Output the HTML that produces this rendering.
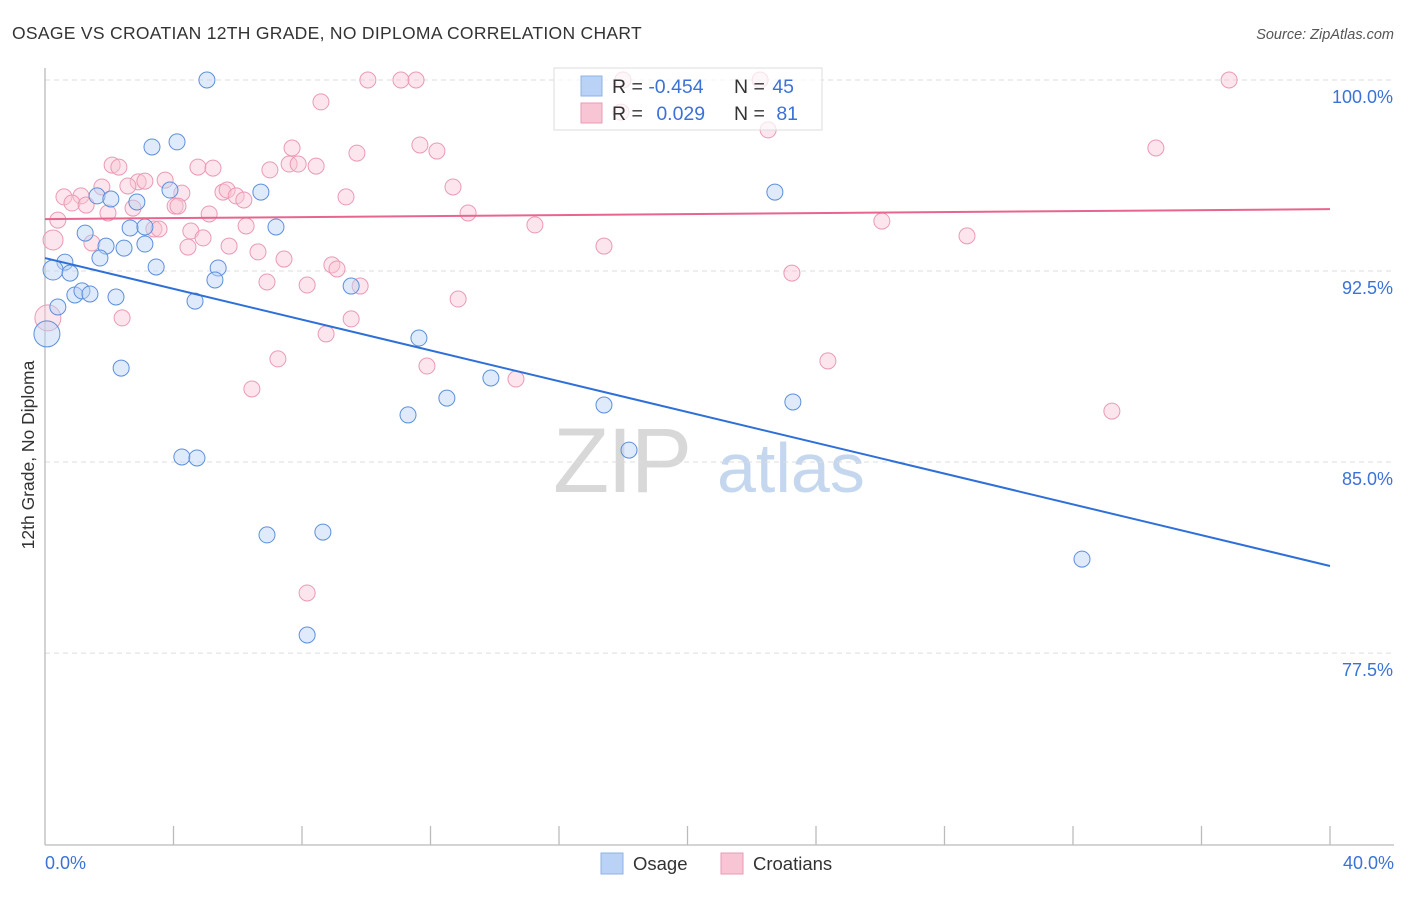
<!DOCTYPE html>
<html><head><meta charset="utf-8"><style>
body{margin:0;background:#fff;font-family:"Liberation Sans",sans-serif;}
svg text{font-family:"Liberation Sans",sans-serif;}
</style></head><body>
<svg id="chart" width="1406" height="892" viewBox="0 0 1406 892" xmlns="http://www.w3.org/2000/svg">
<text x="12" y="39" font-size="17.5" fill="#333" letter-spacing="0.3">OSAGE VS CROATIAN 12TH GRADE, NO DIPLOMA CORRELATION CHART</text>
<text x="1394" y="39" font-size="14.5" fill="#555" text-anchor="end" font-style="italic">Source: ZipAtlas.com</text>
<g>
<text x="553" y="492" font-size="92" fill="#d8d8d8" font-family="Liberation Serif" letter-spacing="-2">ZIP</text>
<text x="717" y="492" font-size="70" fill="#c5d7ee">atlas</text>
</g>
<g id="grid"></g>
<g id="axes"></g>
<g id="points"></g>
<g id="lines"></g>
<text transform="translate(34,455) rotate(-90)" font-size="17.5" fill="#333" text-anchor="middle">12th Grade, No Diploma</text>
<text x="45" y="869" font-size="18" fill="#3a72d8">0.0%</text>
<text x="1394" y="869" font-size="18" fill="#3a72d8" text-anchor="end">40.0%</text>
<g>
<rect x="554" y="68" width="268" height="62" fill="#fff" fill-opacity="0.7" stroke="#ddd"/>
<rect x="581" y="76" width="21" height="20" fill="#b9d2f5" stroke="#8fb2e6"/>
<rect x="581" y="103" width="21" height="20" fill="#f8c5d4" stroke="#eb9ab4"/>
<text x="612" y="93" font-size="19.5" fill="#333">R = <tspan fill="#3a72d8">-0.454</tspan></text>
<text x="734" y="93" font-size="19.5" fill="#333">N = <tspan fill="#3a72d8" dx="2">45</tspan></text>
<text x="612" y="120" font-size="19.5" fill="#333">R = <tspan fill="#3a72d8" dx="8">0.029</tspan></text>
<text x="734" y="120" font-size="19.5" fill="#333">N = <tspan fill="#3a72d8" dx="6">81</tspan></text>
</g>
<g>
<rect x="601" y="853" width="22" height="21" fill="#b9d2f5" stroke="#8fb2e6"/>
<text x="633" y="870" font-size="18.5" fill="#333">Osage</text>
<rect x="721" y="853" width="22" height="21" fill="#f8c5d4" stroke="#eb9ab4"/>
<text x="753" y="870" font-size="18.5" fill="#333">Croatians</text>
</g>
</svg>
<script>
const yTicks=[100,92.5,85,77.5];
const yTickLabels=["100.0%","92.5%","85.0%","77.5%"];
const xTicks=[0,4,8,12,16,20,24,28,32,36,40];
const osageX=[5.04,3.33,4.11,1.62,2.05,3.89,2.86,6.72,1.25,2.65,3.11,7.19,1.90,2.46,3.11,0.62,1.71,0.25,0.78,3.46,5.39,5.29,0.93,1.15,1.40,2.21,4.67,0.40,0.06,2.37,9.53,11.64,13.88,12.51,11.30,17.40,18.18,4.26,4.73,6.91,8.65,8.16,22.72,23.28,32.28];
const osageY=[100,97.37,97.57,95.45,95.33,95.68,95.21,95.60,93.99,94.19,94.23,94.23,93.48,93.40,93.56,92.85,93.01,92.54,92.42,92.66,92.62,92.15,91.56,91.72,91.60,91.48,91.32,91.09,90.03,88.69,91.91,89.87,88.30,87.51,86.85,87.24,85.47,85.20,85.16,82.14,82.25,78.21,95.60,87.36,81.19];
const croX=[10.05,11.08,11.55,22.26,36.86,8.59,22.51,11.67,12.20,7.69,9.71,34.58,2.09,2.30,4.76,5.23,7.00,7.60,7.88,8.44,3.74,2.90,3.11,2.58,1.77,0.59,1.12,0.84,1.28,5.54,5.67,5.95,4.26,6.19,9.37,12.70,2.74,4.05,4.14,1.96,5.11,13.17,0.40,15.25,26.05,3.39,3.55,4.54,6.26,4.92,1.46,4.45,5.73,6.63,28.70,17.40,0.25,7.44,8.93,9.09,6.91,8.16,9.81,23.25,12.86,2.40,9.53,8.75,0.09,7.25,11.89,14.66,6.44,24.37,33.21,8.16,17.99,17.93];
const croY=[100,100,100,100,100,99.14,98.04,97.45,97.21,97.33,97.13,97.33,96.66,96.58,96.58,96.54,96.47,96.70,96.70,96.62,96.07,96.00,96.03,95.84,95.80,95.41,95.45,95.17,95.09,95.60,95.68,95.45,95.56,95.29,95.41,95.80,94.97,95.05,95.05,94.78,94.74,94.78,94.50,94.31,94.46,94.15,94.15,94.07,94.27,93.80,93.60,93.44,93.48,93.25,93.88,93.48,93.72,92.97,92.74,92.58,92.07,91.95,91.91,92.42,91.40,90.66,90.62,90.03,90.66,89.05,88.77,88.26,87.87,88.97,87.00,79.86,100,98.74];
const osageTrend=[93.01,80.92];
const croTrend=[94.54,94.93];
const xDomain=[0,40];

const X=v=>45+(v-xDomain[0])*(1285/(xDomain[1]-xDomain[0]));
const Y=v=>80+(100-v)*25.47;
const NS="http://www.w3.org/2000/svg";
function mk(tag,attrs,parent){const e=document.createElementNS(NS,tag);for(const k in attrs)e.setAttribute(k,attrs[k]);document.getElementById(parent).appendChild(e);return e;}

yTicks.forEach((t,i)=>{
  const l=mk('line',{x1:45,x2:1394,y1:Y(t),y2:Y(t),stroke:'#ddd','stroke-dasharray':'5,4'},'grid');
  
  
  const tx=mk('text',{x:1393,y:Y(t)+23,'font-size':18,fill:'#3a72d8','text-anchor':'end'},'grid');
  tx.textContent=yTickLabels[i];
  
  
});
const ya=mk('line',{x1:45,x2:45,y1:68,y2:845,stroke:'#bbb','stroke-width':1.3},'axes');


const xa=mk('line',{x1:45,x2:1394,y1:845,y2:845,stroke:'#bbb','stroke-width':1.3},'axes');


xTicks.forEach(t=>{
  if(t===0)return;
  const l=mk('line',{x1:X(t),x2:X(t),y1:826,y2:845,stroke:'#bbb','stroke-width':1.3},'axes');
  
  
});
function pts(xs,ys,fill,stroke,name){
  xs.forEach((x,i)=>{
    let r=8;
    if(x<0.15)r=13;else if(x<0.3)r=10;
    const c=mk('circle',{cx:X(x),cy:Y(ys[i]),r:r,fill:fill,'fill-opacity':0.45,stroke:stroke,'stroke-width':1},'points');
    
    
  });
}
pts(croX,croY,'#f8c5d4','#eb9ab4','croatians-point');
pts(osageX,osageY,'#b9d2f5','#5d8fdc','osage-point');
const l1=mk('line',{x1:X(0),y1:Y(osageTrend[0]),x2:X(40),y2:Y(osageTrend[1]),stroke:'#2f6fd8','stroke-width':2},'lines');


const l2=mk('line',{x1:X(0),y1:Y(croTrend[0]),x2:X(40),y2:Y(croTrend[1]),stroke:'#e8658f','stroke-width':2},'lines');


</script>
</body></html>
